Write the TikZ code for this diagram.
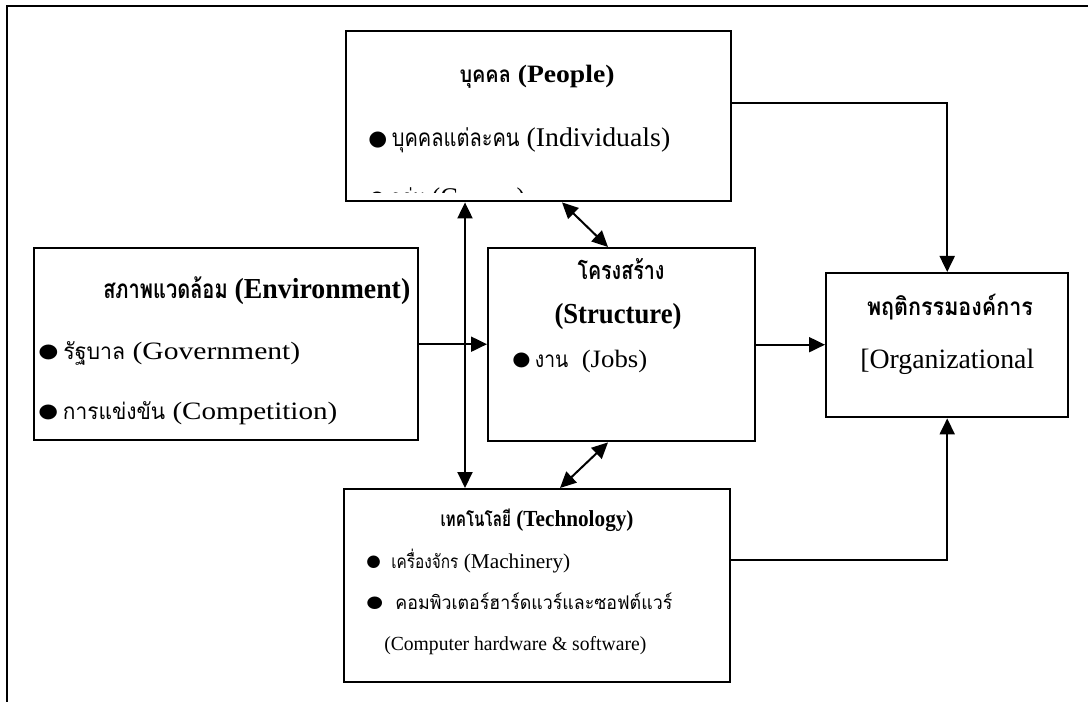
\documentclass[tikz,border=0pt]{standalone}
\usepackage{fontspec}
\usepackage{graphicx}
\usetikzlibrary{arrows.meta}
\setmainfont{Liberation Serif}
\newfontfamily\thai[Script=Thai,Scale=0.9,FakeStretch=0.8]{Loma}
\newfontfamily\bulletfont{DejaVu Sans}
% one drawing unit = one pixel of the 1088 x 702 sheet
\newdimen\pxu \pxu=0.75pt
\newcommand\fsz[1]{\fontsize{\the\dimexpr#1\pxu\relax}{\the\dimexpr#1\pxu\relax}\selectfont}
\newcommand\fitw[2]{\resizebox{#1\pxu}{\height}{#2}}
\newcommand\bul{\raisebox{0.06em}{\scalebox{0.78}{\bulletfont ●}}}
\begin{document}
\begin{tikzpicture}[x=0.75pt,y=-0.75pt,
  box/.style={draw, line width=1.8pt, rectangle, inner sep=0pt, anchor=north west},
  sz/.style 2 args={minimum width=#1*0.75pt, minimum height=#2*0.75pt},
  txt/.style={inner sep=0pt, anchor=base west},
  ctxt/.style={inner sep=0pt, anchor=base},
  arr/.style={-{Triangle[length=12pt,width=11.25pt]}, line width=1.5pt},
  dbl/.style={{Triangle[length=12pt,width=11.25pt]}-{Triangle[length=12pt,width=11.25pt]}, line width=1.5pt},
  frame/.style={line width=2.2pt}]
\useasboundingbox (0,0) rectangle (1088,702);

% sheet frame
\coordinate (fa) at (7,702);
\coordinate (fb) at (7,6);
\coordinate (fc) at (1088,6);
\draw[frame] (fa) -- (fb) -- (fc);

% boxes
\node[box, sz={385}{170}] (people) at (345,30) {};
\node[box, sz={384}{192}] (env) at (33,247) {};
\node[box, sz={267}{193}] (str) at (487,247) {};
\node[box, sz={242}{144}] (org) at (825,272) {};
\node[box, sz={386}{193}] (tech) at (343,488) {};

% people
\node[ctxt] (pt1) at (537,83) {\fsz{25}\bfseries\fitw{155}{{\thai บุคคล} (People)}};
\node[txt] (pt2) at (368,147) {\fsz{27}\fitw{302}{\bul\,{\thai บุคคลแต่ละคน} (Individuals)}};
\begin{scope}
  \path[clip] (people.north west) rectangle ([yshift=7.5pt]people.south east);
  \node[txt] (pt3) at (368,207) {\fsz{27}\fitw{157}{\bul\,{\thai กลุ่ม} (Groups)}};
\end{scope}

% environment
\node[txt] (et1) at (103,298) {\fsz{29}\bfseries\fitw{307}{{\thai สภาพแวดล้อม} (Environment)}};
\node[txt] (et2) at (38,359) {\fsz{25}\fitw{262}{\bul\,{\thai รัฐบาล} (Government)}};
\node[txt] (et3) at (38,419) {\fsz{25}\fitw{299}{\bul\,{\thai การแข่งขัน} (Competition)}};

% structure
\node[ctxt] (st1) at (621,280) {\fsz{28}\bfseries\fitw{87}{\thai โครงสร้าง}};
\node[ctxt] (st2) at (618,324) {\fsz{29}\bfseries\fitw{127}{(Structure)}};
\node[txt] (st3) at (512,367) {\fsz{25}\fitw{135}{\bul\,{\thai งาน}\ \ (Jobs)}};

% organizational behaviour
\node[ctxt] (ot1) at (950,315) {\fsz{27}\bfseries\fitw{166}{\thai พฤติกรรมองค์การ}};
\node[txt] (ot2) at (860,368) {\fsz{28}\fitw{174}{[Organizational}};

% technology
\node[ctxt] (tt1) at (537,526) {\fsz{23}\bfseries\fitw{193}{{\thai เทคโนโลยี} (Technology)}};
\node[txt] (tt2) at (366,568) {\fsz{21}\fitw{204}{\bul\hspace{0.5em}{\thai เครื่องจักร} (Machinery)}};
\node[txt] (tt3) at (366,609) {\fsz{21}\fitw{306}{\bul\hspace{0.5em}{\thai คอมพิวเตอร์ฮาร์ดแวร์และซอฟต์แวร์}}};
\node[txt] (tt4) at (384,650) {\fsz{20}\fitw{262}{(Computer hardware \& software)}};

% connectors
\coordinate (py) at (0,103);
\coordinate (ty) at (0,560);
\coordinate (vx) at (465,0);
\coordinate (d1) at (562,0);
\coordinate (d2) at (608,0);
\coordinate (d3) at (560,0);
\draw[arr] (people.east |- py) -| (org.north);
\draw[arr] (tech.east |- ty) -| (org.south);
\draw[arr] (env.east) -- (env.east -| str.west);
\draw[arr] (str.east) -- (str.east -| org.west);
\draw[dbl] (people.south -| vx) -- (tech.north -| vx);
\draw[dbl] (people.south -| d1) -- (str.north -| d2);
\draw[dbl] (str.south -| d2) -- (tech.north -| d3);
\end{tikzpicture}
\end{document}
